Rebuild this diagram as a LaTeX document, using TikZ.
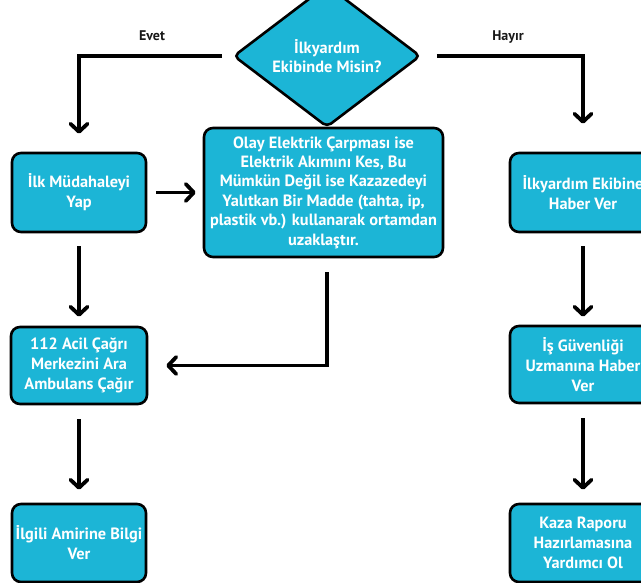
\documentclass[tikz,border=0pt]{standalone}
\usepackage{fontspec}
\setmainfont{PT Sans}
\usetikzlibrary{shapes.geometric,arrows.meta}
\definecolor{boxcyan}{RGB}{28,181,214}
\tikzset{
  flowbox/.style={draw=black, line width=2.6pt, fill=boxcyan, rounded corners=9pt,
    text=white, font=\fontsize{16.3}{19.8}\selectfont\bfseries, align=center, inner sep=1pt},
  decision/.style={diamond, draw=black, line width=2.6pt, fill=boxcyan, rounded corners=5pt,
    text=white, font=\fontsize{16.3}{19}\selectfont\bfseries, align=center, inner sep=0pt},
  arr/.style={line width=3.8pt, -{Straight Barb[length=8pt,width=17pt,round]}},
  lbl/.style={font=\fontsize{14}{16}\selectfont\bfseries, text=black!90}
}
\begin{document}
\begin{tikzpicture}[x=1pt,y=-1pt]
\useasboundingbox (0,0) rectangle (641,583);
\clip (0,0) rectangle (641,583);
\fill[white] (0,0) rectangle (641,583);

\node[decision, minimum width=187pt, minimum height=102pt] (d) at (327,56) {İlkyardım\\Ekibinde Misin?};

\node[flowbox, minimum width=134pt, minimum height=79pt] (b1) at (79,192.5) {İlk Müdahaleyi\\Yap};
\node[flowbox, minimum width=239pt, minimum height=129pt, font=\fontsize{16.3}{19.4}\selectfont\bfseries] (b2) at (323.5,192.5)
  {Olay Elektrik Çarpması ise\\Elektrik Akımını Kes, Bu\\Mümkün Değil ise Kazazedeyi\\Yalıtkan Bir Madde (tahta, ip,\\plastik vb.) kullanarak ortamdan\\uzaklaştır.};
\node[flowbox, minimum width=146pt, minimum height=79pt] (r1) at (583,192.5) {İlkyardım Ekibine\\Haber Ver};

\node[flowbox, minimum width=136pt, minimum height=77pt] (b3) at (79,365.5) {112 Acil Çağrı\\Merkezini Ara\\Ambulans Çağır};
\node[flowbox, minimum width=146pt, minimum height=77pt] (r2) at (583,364.5) {İş Güvenliği\\Uzmanına Haber\\Ver};

\node[flowbox, minimum width=134pt, minimum height=78pt] (b4) at (79,543) {İlgili Amirine Bilgi\\Ver};
\node[flowbox, minimum width=146pt, minimum height=78pt] (r3) at (583,543) {Kaza Raporu\\Hazırlamasına\\Yardımcı Ol};

\node[lbl] (evet) at (152,36) {Evet};
\node[lbl] (hayir) at (508,37) {Hayır};

\draw[arr, shorten <=10pt, shorten >=18pt] (d.west) -| (b1.north);
\draw[arr, shorten <=15pt, shorten >=28pt] (d.east) -| (r1.north);
\draw[arr, shorten <=9pt, shorten >=7pt] (b1.east) -- (b2.west);
\draw[arr, shorten <=13pt, shorten >=9pt] (b1.south) -- (b3.north);
\draw[arr, shorten <=14pt, shorten >=18pt] ([xshift=3.5pt]b2.south) |- (b3.east);
\draw[arr, shorten <=14pt, shorten >=13pt] (b3.south) -- (b4.north);
\draw[arr, shorten <=13pt, shorten >=8pt] (r1.south) -- (r2.north);
\draw[arr, shorten <=14pt, shorten >=13pt] (r2.south) -- (r3.north);
\end{tikzpicture}
\end{document}
